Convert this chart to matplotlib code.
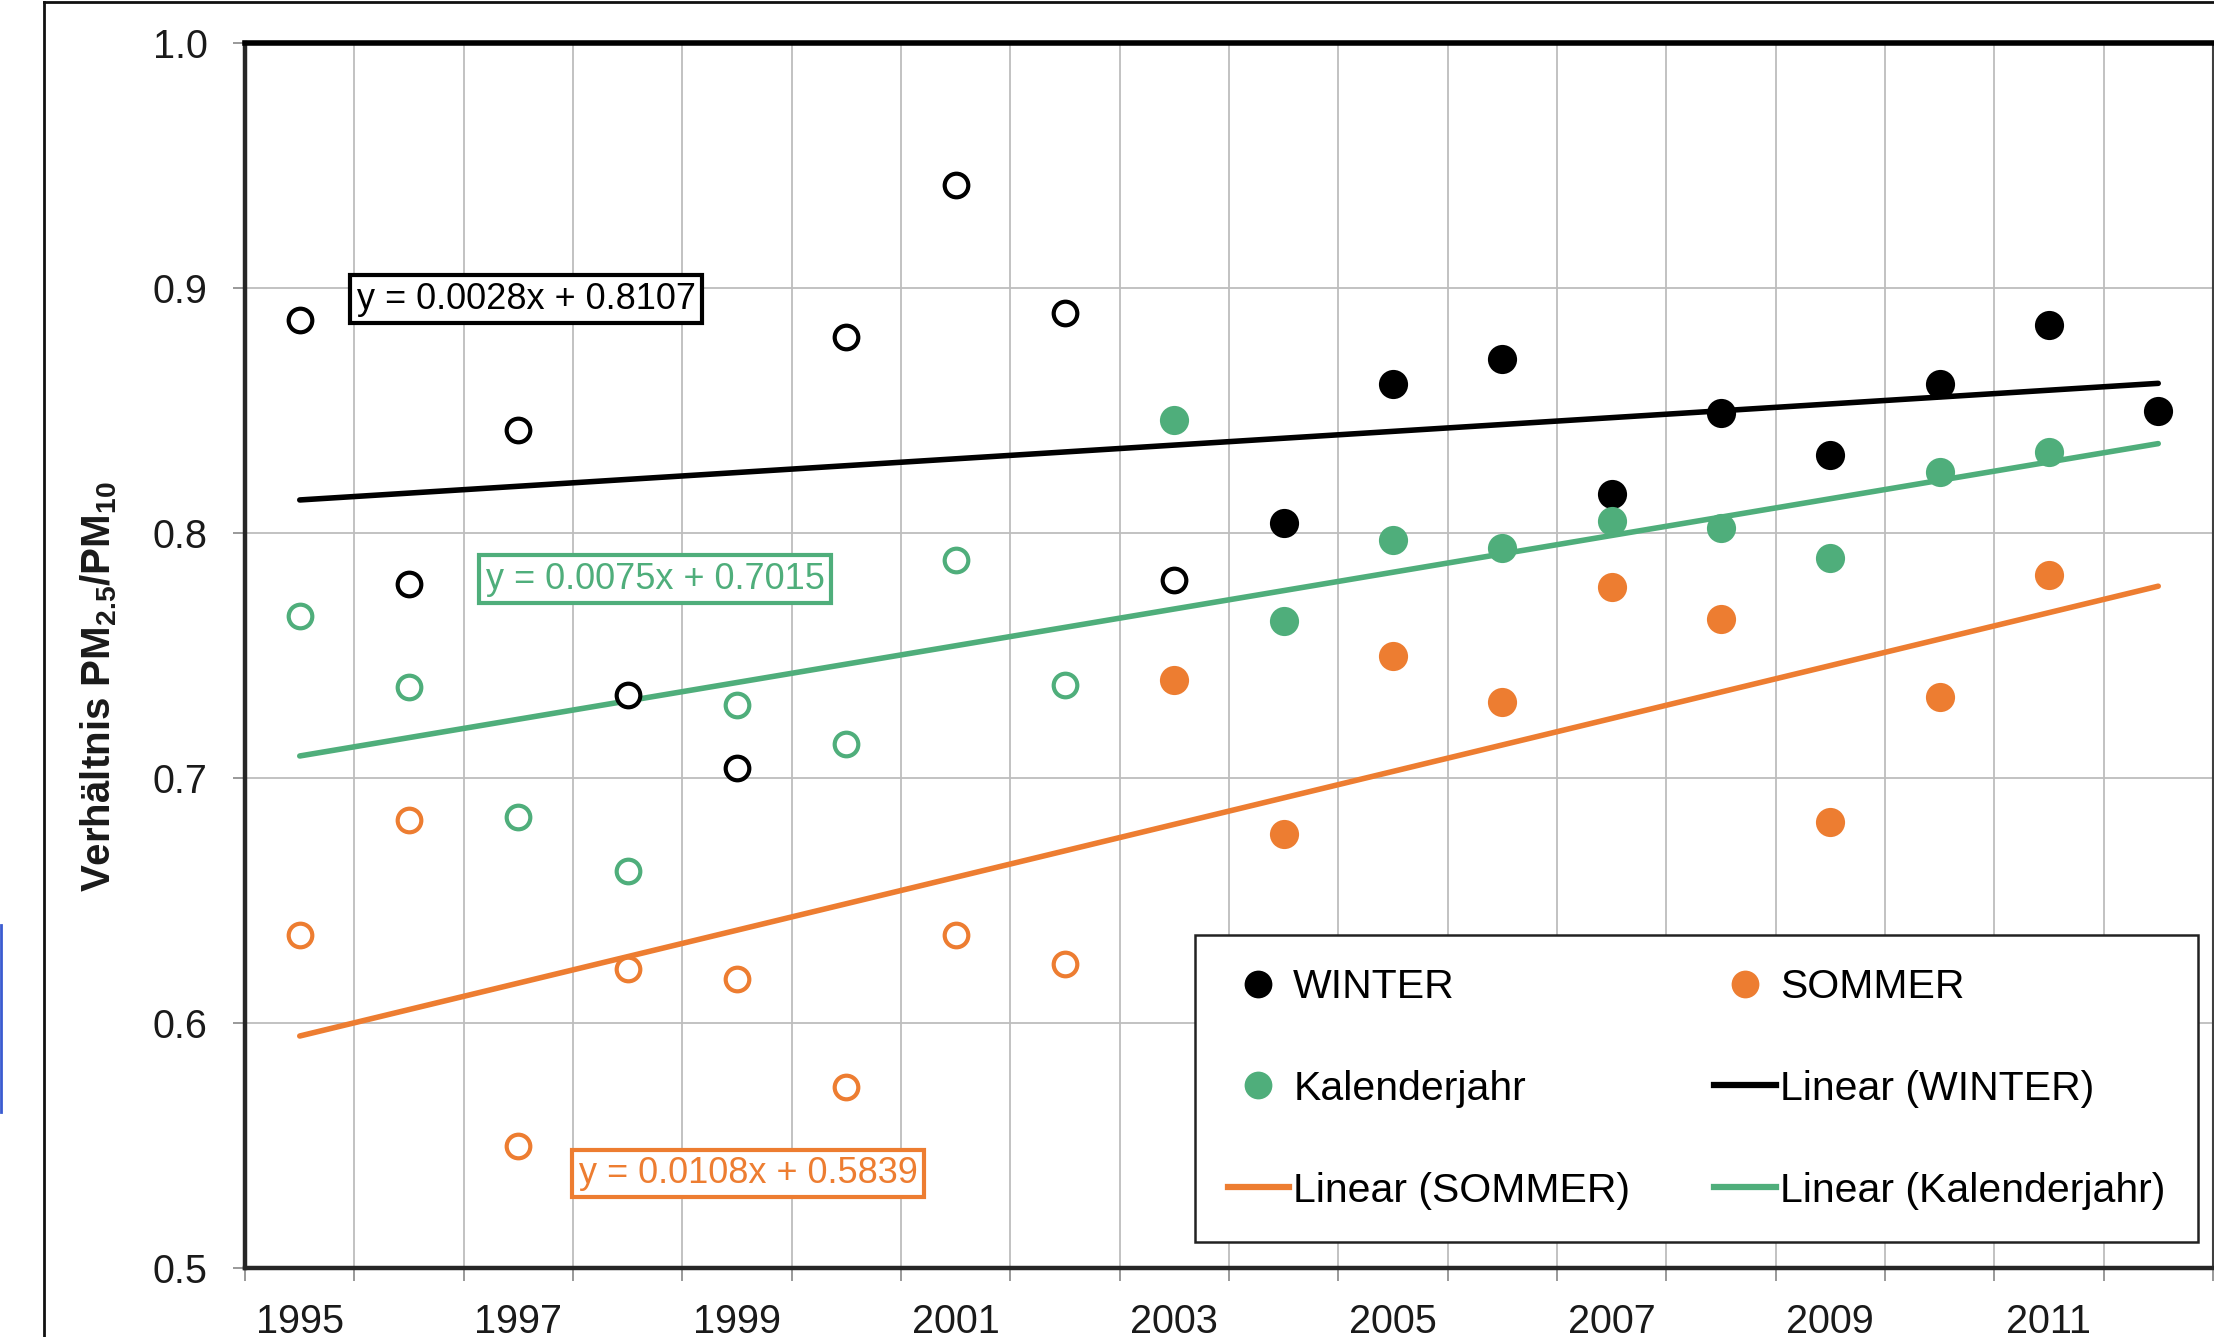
import matplotlib
matplotlib.use("Agg")
import matplotlib.pyplot as plt
from matplotlib.lines import Line2D
import numpy as np

plt.rcParams['font.family'] = ['Liberation Sans', 'DejaVu Sans']
plt.rcParams['mathtext.fontset'] = 'custom'
plt.rcParams['mathtext.rm'] = 'Liberation Sans'
plt.rcParams['mathtext.bf'] = 'Liberation Sans:bold'

# data
years = list(range(1995, 2013))
winter = [0.887, 0.779, 0.842, 0.734, 0.704, 0.880, 0.942, 0.890, 0.781,
          0.804, 0.861, 0.871, 0.816, 0.849, 0.832, 0.861, 0.885, 0.850]
sommer = [0.636, 0.683, 0.550, 0.622, 0.618, 0.574, 0.636, 0.624,
          0.740, 0.677, 0.750, 0.731, 0.778, 0.765, 0.682, 0.733, 0.783]
kalender = [0.766, 0.737, 0.684, 0.662, 0.730, 0.714, 0.789, 0.738,
            0.846, 0.764, 0.797, 0.794, 0.805, 0.802, 0.790, 0.825, 0.833]
# first n points are drawn as open circles
winter_open = 9
sommer_open = 8
kalender_open = 8
# Excel trendline coefficients (x = 1..18)
fit_winter = (0.0028, 0.8107)
fit_sommer = (0.0108, 0.5839)
fit_kalender = (0.0075, 0.7015)

c_black = '#000000'
c_orange = '#ED7D31'
c_green = '#4FAE7B'

fig = plt.figure(figsize=(22.14, 13.37), dpi=100)
ax = fig.add_axes([0.1107, 0.0516, 0.8888, 0.9162])

xline = np.array([1, len(years)])
for (m, b), col in [(fit_winter, c_black), (fit_kalender, c_green), (fit_sommer, c_orange)]:
    ax.plot(xline, m * xline + b, color=col, lw=4, solid_capstyle='round', zorder=3)


def draw(vals, n_open, col):
    x = np.arange(1, len(vals) + 1)
    ax.plot(x[:n_open], vals[:n_open], ls='none', marker='o', ms=17, mfc='white',
            mec=col, mew=3, zorder=4)
    ax.plot(x[n_open:], vals[n_open:], ls='none', marker='o', ms=21, mfc=col,
            mec=col, mew=0, zorder=4)


draw(winter, winter_open, c_black)
draw(kalender, kalender_open, c_green)
draw(sommer, sommer_open, c_orange)

ax.set_xlim(0.5, len(years) + 0.5)
ax.set_ylim(0.5, 1.0)

ax.set_xticks(np.arange(0.5, len(years) + 1, 1))
ax.set_xticklabels([])
ax.set_xticks(np.arange(1, len(years) + 1, 2), minor=True)
ax.set_xticklabels([str(y) for y in years[::2]], minor=True)
ax.tick_params(axis='x', which='major', length=9, width=1.2, color='#888888', direction='out')
ax.tick_params(axis='x', which='minor', length=0, pad=25, labelsize=28.5, labelcolor='#1a1a1a')

yt = [0.5, 0.6, 0.7, 0.8, 0.9, 1.0]
ax.set_yticks(yt)
ax.set_yticklabels(['%.1f' % v for v in yt])
ax.tick_params(axis='y', length=9, width=1.2, color='#888888', pad=18, labelsize=28.5,
               labelcolor='#1a1a1a')

ax.grid(True, which='major', color='#BDBDBD', lw=1.3, zorder=0)
ax.set_axisbelow(True)

ax.spines['top'].set_linewidth(4)
ax.spines['top'].set_color('#000000')
ax.spines['left'].set_linewidth(3.2)
ax.spines['left'].set_color('#262626')
ax.spines['bottom'].set_linewidth(3.2)
ax.spines['bottom'].set_color('#262626')
ax.spines['right'].set_linewidth(1.5)
ax.spines['right'].set_color('#404040')

ax.set_ylabel(r'Verhältnis PM$_\mathbf{2.5}$/PM$_\mathbf{10}$', fontsize=29,
              fontweight='bold', color='#1a1a1a')
ax.yaxis.set_label_coords(-0.064, 0.475)

# trendline equations
for txt, col, xy in [('y = 0.0028x + 0.8107', c_black, (3.07, 0.8955)),
                     ('y = 0.0075x + 0.7015', c_green, (4.25, 0.7812)),
                     ('y = 0.0108x + 0.5839', c_orange, (5.10, 0.5387))]:
    ax.text(xy[0], xy[1], txt, color=col, fontsize=26, ha='center', va='center', zorder=6,
            bbox=dict(boxstyle='square,pad=0.17', fc='white', ec=col, lw=3))

# legend
h = [Line2D([], [], ls='none', marker='o', ms=20, mfc=c_black, mec=c_black, mew=0),
     Line2D([], [], ls='none', marker='o', ms=20, mfc=c_green, mec=c_green, mew=0),
     Line2D([], [], color=c_orange, lw=4.5),
     Line2D([], [], ls='none', marker='o', ms=20, mfc=c_orange, mec=c_orange, mew=0),
     Line2D([], [], color=c_black, lw=4.5),
     Line2D([], [], color=c_green, lw=4.5)]
labels = ['WINTER', 'Kalenderjahr', 'Linear (SOMMER)', 'SOMMER', 'Linear (WINTER)',
          'Linear (Kalenderjahr)']
leg = ax.legend(h, labels, ncol=2, loc='upper left', bbox_to_anchor=(0.4827, 0.2718),
                borderaxespad=0, fontsize=29.5, frameon=True, fancybox=False,
                handlelength=1.5, handletextpad=0.1, labelspacing=1.56,
                columnspacing=2.05, borderpad=0.8)
leg.get_frame().set_edgecolor('#222222')
leg.get_frame().set_linewidth(1.8)
leg.get_frame().set_alpha(1)
leg.set_zorder(7)

# outer chart frame and the blue edge seen at the left
fig.add_artist(Line2D([44 / 2214, 44 / 2214], [0, 1 - 2 / 1337], transform=fig.transFigure,
                      color='#111111', lw=2))
fig.add_artist(Line2D([44 / 2214, 1], [1 - 2 / 1337, 1 - 2 / 1337], transform=fig.transFigure,
                      color='#111111', lw=2))
fig.add_artist(Line2D([1 / 2214, 1 / 2214], [1 - 925 / 1337, 1 - 1112 / 1337],
                      transform=fig.transFigure, color='#3A5BD0', lw=2))

fig.savefig('out.png', dpi=100)
